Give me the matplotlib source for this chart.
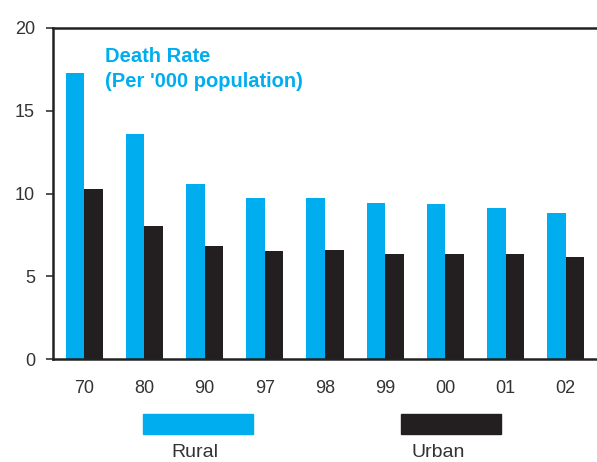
import matplotlib
matplotlib.use('Agg')
import matplotlib.pyplot as plt
from matplotlib.patches import Rectangle
import numpy as np

plt.rcParams['font.family'] = ['Liberation Sans', 'DejaVu Sans']

# 資料
years = ['70', '80', '90', '97', '98', '99', '00', '01', '02']
rural = [17.3, 13.6, 10.6, 9.7, 9.7, 9.4, 9.35, 9.15, 8.8]
urban = [10.3, 8.05, 6.8, 6.5, 6.6, 6.35, 6.35, 6.35, 6.15]

BLUE = '#00AEEF'
BLACK = '#231F20'
TXT = '#333333'
W, H = 597, 462

fig = plt.figure(figsize=(5.97, 4.62), dpi=100)
ax = fig.add_axes([53 / W, 103 / H, 544 / W, 331 / H])

x = np.arange(len(years))
w = 0.31
ax.bar(x - w / 2, rural, w, color=BLUE)
ax.bar(x + w / 2, urban, w, color=BLACK)

ax.set_xlim(-0.52, len(years) - 0.48)
ax.set_ylim(0, 20)
ax.set_yticks([0, 5, 10, 15, 20])
ax.set_xticks(x)
ax.set_xticklabels(years)
ax.tick_params(axis='y', length=5, width=1.2, labelsize=13, pad=8, colors=TXT)
ax.tick_params(axis='x', length=0, labelsize=13, pad=15, colors=TXT)
for s in ['left', 'top', 'bottom']:
    ax.spines[s].set_linewidth(1.8)
    ax.spines[s].set_color('#222222')
ax.spines['right'].set_visible(False)

# 標題（兩行分開放）
fig.text(105 / W, 1 - 62 / H, "Death Rate", color=BLUE, fontsize=14.5,
         fontweight='bold', va='baseline', ha='left')
fig.text(105 / W, 1 - 87 / H, "(Per '000 population)", color=BLUE, fontsize=14.5,
         fontweight='bold', va='baseline', ha='left')

# 圖例
def legend_item(x0, x1, color, label, tx):
    fig.patches.append(Rectangle((x0 / W, 1 - 434 / H), (x1 - x0) / W, 20 / H,
                                 transform=fig.transFigure, color=color))
    fig.text(tx / W, 1 - 457 / H, label, ha='center', va='baseline',
             fontsize=14, color=TXT)

legend_item(143, 253, BLUE, 'Rural', 195)
legend_item(401, 501, BLACK, 'Urban', 438)

fig.savefig('out.png', dpi=100)
